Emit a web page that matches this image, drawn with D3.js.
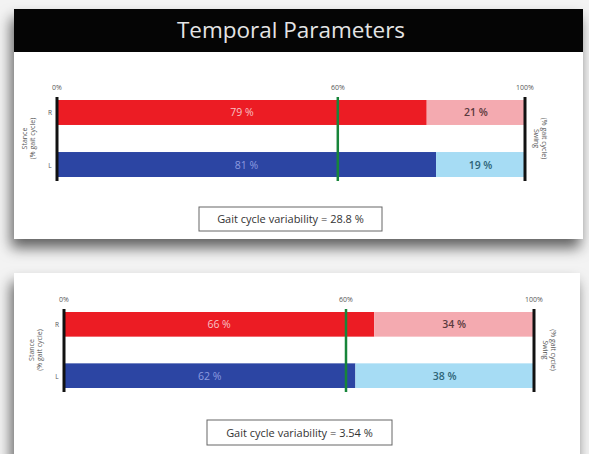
<!DOCTYPE html>
<html>
<head>
<meta charset="utf-8">
<script src="https://cdn.jsdelivr.net/npm/d3@7.9.0/dist/d3.min.js"></script>
<style>
  body { margin: 0; background: #f3f3f3; }
  svg { display: block; font-family: "Open Sans", sans-serif; }
</style>
</head>
<body>
<svg width="589" height="454"></svg>
<script>
// chart data
const sides = ['R', 'L'];
const stanceA = [79, 81];
const swingA = [21, 19];
const stanceB = [66, 62];
const swingB = [34, 38];
const variability = [28.8, 3.54];
const tickValues = [0, 60, 100];
const tickLabels = ['0%', '60%', '100%'];
const refLine = 60;

const svg = d3.select('svg');

// drop shadow for the two cards
const defs = svg.append('defs');
const f = defs.append('filter').attr('id', 'shadow')
  .attr('x', -0.1).attr('y', -0.1).attr('width', 1.2).attr('height', 1.4);
f.append('feDropShadow').attr('dx', -3).attr('dy', 9)
  .attr('stdDeviation', 7).attr('flood-color', '#000').attr('flood-opacity', 0.6);

// card backgrounds
svg.append('rect').attr('x', 14).attr('y', 9).attr('width', 569).attr('height', 230)
  .attr('fill', '#fff').attr('filter', 'url(#shadow)');
svg.append('rect').attr('x', 14).attr('y', 9).attr('width', 569).attr('height', 43)
  .attr('fill', '#050505');
svg.append('text').attr('x', 291).attr('y', 38).attr('text-anchor', 'middle')
  .attr('fill', '#e4e4e4').attr('font-size', 22.5).text('Temporal Parameters');

svg.append('rect').attr('x', 14).attr('y', 273).attr('width', 566).attr('height', 200)
  .attr('fill', '#fff').attr('filter', 'url(#shadow)');

const colors = {
  stance: ['#ec1c24', '#2c45a3'],
  swing: ['#f4aab0', '#a6dcf4'],
  stanceText: ['#f7c2c4', '#8c9ce0'],
  swingText: ['#5b3a3e', '#2d6478']
};

function drawPanel(g, stance, swing, varVal, x0, x1, y0, y1, box) {
  const x = d3.scaleLinear().domain([0, 100]).range([x0, x1]);
  const y = d3.scaleBand().domain(sides).range([y0, y1]).paddingInner(0.52);

  // stance bars
  g.selectAll('.st').data(stance).join('rect')
    .attr('x', x(0)).attr('y', (d, i) => y(sides[i]))
    .attr('width', d => x(d) - x(0)).attr('height', y.bandwidth())
    .attr('fill', (d, i) => colors.stance[i]);
  // swing bars
  g.selectAll('.sw').data(swing).join('rect')
    .attr('x', (d, i) => x(stance[i])).attr('y', (d, i) => y(sides[i]))
    .attr('width', d => x(d) - x(0)).attr('height', y.bandwidth())
    .attr('fill', (d, i) => colors.swing[i]);

  // value labels
  stance.forEach((d, i) => {
    g.append('text').attr('x', x(d / 2)).attr('y', y(sides[i]) + y.bandwidth() / 2 + 4)
      .attr('text-anchor', 'middle').attr('font-size', 10.5)
      .attr('fill', colors.stanceText[i]).text(d + ' %');
  });
  swing.forEach((d, i) => {
    g.append('text').attr('x', x(stance[i] + d / 2)).attr('y', y(sides[i]) + y.bandwidth() / 2 + 4)
      .attr('text-anchor', 'middle').attr('font-size', 10.5).attr('font-weight', 600)
      .attr('fill', colors.swingText[i]).text(d + ' %');
  });

  // axis lines
  const top = y0 - 3, bot = y1 + 4;
  [0, 100].forEach(v => {
    g.append('line').attr('x1', x(v)).attr('x2', x(v)).attr('y1', top).attr('y2', bot)
      .attr('stroke', '#111').attr('stroke-width', 3);
  });
  g.append('line').attr('x1', x(refLine)).attr('x2', x(refLine)).attr('y1', top).attr('y2', bot)
    .attr('stroke', '#17853a').attr('stroke-width', 2.5);

  // tick labels
  tickValues.forEach((v, i) => {
    g.append('text').attr('x', x(v)).attr('y', y0 - 10).attr('text-anchor', 'middle')
      .attr('font-size', 7).attr('fill', '#555').text(tickLabels[i]);
  });

  // side letters
  sides.forEach(s => {
    g.append('text').attr('x', x0 - 7).attr('y', y(s) + y.bandwidth() / 2 + 3)
      .attr('text-anchor', 'middle').attr('font-size', 6.5).attr('fill', '#555').text(s);
  });

  // side titles
  const cy = (y0 + y1) / 2;
  const left = g.append('text').attr('transform', `translate(${x0 - 30},${cy}) rotate(-90)`)
    .attr('text-anchor', 'middle').attr('font-size', 7).attr('fill', '#555');
  left.append('tspan').attr('x', 0).attr('dy', 0).text('Stance');
  left.append('tspan').attr('x', 0).attr('dy', 8).text('(% gait cycle)');
  const right = g.append('text').attr('transform', `translate(${x1 + 17},${cy}) rotate(90)`)
    .attr('text-anchor', 'middle').attr('font-size', 7).attr('fill', '#555');
  right.append('tspan').attr('x', 0).attr('dy', 0).text('(% gait cycle)');
  right.append('tspan').attr('x', 0).attr('dy', 8).text('Swing');

  // variability box
  g.append('rect').attr('x', box[0]).attr('y', box[1]).attr('width', box[2]).attr('height', box[3])
    .attr('fill', '#fff').attr('stroke', '#666').attr('stroke-width', 1);
  g.append('text').attr('x', box[0] + box[2] / 2).attr('y', box[1] + box[3] / 2 + 4)
    .attr('text-anchor', 'middle').attr('font-size', 11).attr('fill', '#333')
    .text('Gait cycle variability = ' + varVal + ' %');
}

drawPanel(svg.append('g'), stanceA, swingA, variability[0], 57, 525, 100, 177, [199, 207, 183, 24]);
drawPanel(svg.append('g'), stanceB, swingB, variability[1], 64, 534, 312, 388, [207, 420, 185, 25]);
</script>
</body>
</html>
